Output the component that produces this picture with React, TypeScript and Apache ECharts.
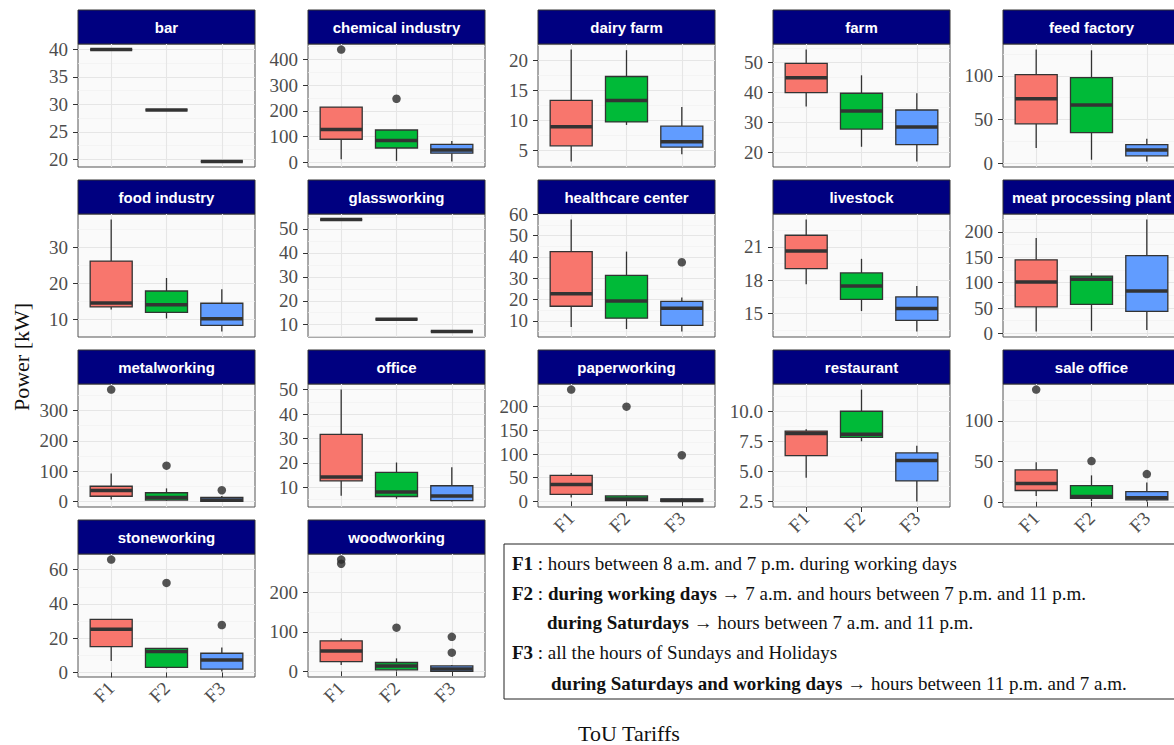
import React, { useEffect, useRef } from 'react';
import * as echarts from 'echarts';

// ---------- data ----------
const tariffs = ['F1', 'F2', 'F3'];
const sectors = [
  'bar', 'chemical industry', 'dairy farm', 'farm', 'feed factory',
  'food industry', 'glassworking', 'healthcare center', 'livestock', 'meat processing plant',
  'metalworking', 'office', 'paperworking', 'restaurant', 'sale office',
  'stoneworking', 'woodworking',
];

// box stats per tariff: [lower whisker, Q1, median, Q3, upper whisker]
const barStats = [[40, 40, 40, 40, 40], [29, 29, 29, 29, 29], [19.6, 19.6, 19.6, 19.6, 19.6]];
const chemicalStats = [[12, 90, 128, 215, 215], [6, 56, 85, 126, 126], [4, 36, 48, 70, 83]];
const dairyStats = [[3.1, 5.7, 8.9, 13.3, 21.8], [9.2, 9.7, 13.3, 17.3, 21.7], [4.3, 5.5, 6.4, 9.0, 12.2]];
const farmStats = [[35.4, 40, 45, 49.8, 54.4], [21.9, 27.8, 33.9, 39.8, 45.8], [17, 22.6, 28.5, 34.2, 39.8]];
const feedStats = [[17.4, 45.1, 73.9, 101.5, 130.3], [3.8, 34.9, 66.7, 98.1, 129.5], [1.9, 8.3, 15.1, 21.2, 28]];
const foodStats = [[12.7, 13.4, 14.5, 26.1, 37.6], [10.2, 11.9, 14.0, 17.8, 21.4], [6.6, 8.3, 10.1, 14.4, 18.3]];
const glassStats = [[53.9, 53.9, 53.9, 53.9, 53.9], [12.3, 12.3, 12.3, 12.3, 12.3], [7.2, 7.2, 7.2, 7.2, 7.2]];
const healthStats = [[7.2, 16.9, 22.8, 42.5, 57.5], [6.2, 11.3, 19.3, 31.4, 42.5], [5.1, 7.9, 16.0, 19.2, 21]];
const livestockStats = [[17.64, 19.05, 20.64, 22.05, 23.46], [15.23, 16.29, 17.49, 18.66, 19.93], [13.4, 14.4, 15.45, 16.5, 17.49]];
const meatStats = [[3.9, 52.2, 101.2, 145, 188.2], [5.1, 57, 106.5, 113, 118.8], [6.5, 43.5, 83.7, 153.3, 224.3]];
const metalStats = [[6, 17, 36, 50, 92], [2, 4.3, 13, 28.6, 43], [0, 0.5, 5, 13, 18]];
const officeStats = [[6.6, 12.7, 14.3, 31.7, 50], [5.4, 6.3, 8.1, 16.2, 20.2], [4.3, 4.6, 6.5, 10.7, 18.3]];
const paperStats = [[8.3, 15, 35.7, 55, 60], [0.5, 1.5, 5, 11.6, 13], [0, 0.3, 2, 5.4, 7]];
const restaurantStats = [[4.46, 6.31, 8.15, 8.35, 8.5], [7.5, 7.82, 8.09, 10.0, 11.8], [2.5, 4.2, 5.9, 6.53, 7.13]];
const saleStats = [[7.3, 14, 22.5, 39.5, 48.8], [1, 4.4, 6.5, 20.1, 32.7], [0.5, 2.4, 5, 12.5, 24]];
const stoneStats = [[6.7, 15.1, 25.2, 31, 31], [2.3, 2.9, 12.2, 14, 14], [0.6, 1.9, 7.3, 11.2, 14.5]];
const woodStats = [[16.5, 25, 51.5, 77.5, 83], [2, 4, 14, 22.5, 33], [0, 0, 5.8, 14, 16.5]];

// outliers: [tariff number, value]
const chemicalOut = [[1, 438], [2, 247]];
const healthOut = [[3, 37.5]];
const metalOut = [[1, 369], [2, 118], [3, 37]];
const paperOut = [[1, 236], [2, 200], [3, 97.5]];
const saleOut = [[1, 138.8], [2, 50.4], [3, 34.3]];
const stoneOut = [[1, 65.9], [2, 52.3], [3, 27.7]];
const woodOut = [[1, 283], [1, 272.5], [2, 110.8], [3, 87.5], [3, 47.5]];

// y tick labels per panel
const barTicks = [20, 25, 30, 35, 40];
const chemicalTicks = [0, 100, 200, 300, 400];
const dairyTicks = [5, 10, 15, 20];
const farmTicks = [20, 30, 40, 50];
const feedTicks = [0, 50, 100];
const foodTicks = [10, 20, 30];
const glassTicks = [10, 20, 30, 40, 50];
const healthTicks = [10, 20, 30, 40, 50, 60];
const livestockTicks = [15, 18, 21];
const meatTicks = [0, 50, 100, 150, 200];
const metalTicks = [0, 100, 200, 300];
const officeTicks = [10, 20, 30, 40, 50];
const paperTicks = [0, 50, 100, 150, 200];
const restaurantTicks = [2.5, 5.0, 7.5, 10.0];
const saleTicks = [0, 50, 100];
const stoneTicks = [0, 20, 40, 60];
const woodTicks = [0, 100, 200];

const boxStats = [barStats, chemicalStats, dairyStats, farmStats, feedStats, foodStats, glassStats, healthStats,
  livestockStats, meatStats, metalStats, officeStats, paperStats, restaurantStats, saleStats, stoneStats, woodStats];
const outlierPts: number[][][] = [[], chemicalOut, [], [], [], [], [], healthOut, [], [], metalOut, [], paperOut, [],
  saleOut, stoneOut, woodOut];
const yTicks = [barTicks, chemicalTicks, dairyTicks, farmTicks, feedTicks, foodTicks, glassTicks, healthTicks,
  livestockTicks, meatTicks, metalTicks, officeTicks, paperTicks, restaurantTicks, saleTicks, stoneTicks, woodTicks];

// ---------- styling / layout ----------
const fills = ['#F8766D', '#00BA38', '#619CFF'];
const colLeft = [78, 308, 538, 773, 1003];
const rowTop = [44, 214, 384, 554];
const panelW = 177;
const panelH = 123;
const stripH = 34;
const serif = '"Liberation Serif", "Times New Roman", serif';
const sans = '"Liberation Sans", Arial, sans-serif';
const tickFont = 19;
const legendFont = 19;

function buildOption() {
  const grid: any[] = [];
  const xAxis: any[] = [];
  const yAxis: any[] = [];
  const series: any[] = [];
  const graphic: any[] = [];

  sectors.forEach((name, k) => {
    const row = Math.floor(k / 5);
    const col = k % 5;
    const left = colLeft[col];
    const top = rowTop[row];
    const stats = boxStats[k];
    const outs = outlierPts[k];
    const ticks = yTicks[k];
    const all = [...stats.flat(), ...outs.map((o) => o[1])];
    const lo = Math.min(...all);
    const hi = Math.max(...all);
    const pad = (hi - lo) * 0.05;
    const yMin = lo - pad;
    const yMax = hi + pad;
    const step = ticks[1] - ticks[0];
    const minors: number[] = [];
    for (let i = -1; i < ticks.length; i++) {
      const m = ticks[0] + (i + 0.5) * step;
      if (m > yMin && m < yMax) minors.push(m);
    }
    const dec = ticks.some((t) => Math.round(t) !== t) ? 1 : 0;
    const isBottom = k + 5 >= sectors.length;

    grid.push({
      left, top, width: panelW, height: panelH,
      show: true, backgroundColor: '#FAFAFA', borderColor: '#555', borderWidth: 1,
      containLabel: false, outerBoundsMode: 'none',
    });

    xAxis.push({
      gridIndex: k, type: 'value', min: 0.4, max: 3.6,
      axisLine: { show: false },
      axisTick: { show: isBottom, customValues: [1, 2, 3], length: 5, lineStyle: { color: '#333', width: 1 } },
      axisLabel: {
        show: isBottom, customValues: [1, 2, 3], rotate: 45, margin: 8,
        formatter: (v: number) => tariffs[Math.round(v) - 1],
        fontFamily: serif, fontSize: tickFont, color: '#4D4D4D',
      },
      splitLine: { show: true, lineStyle: { color: '#E6E6E6', width: 1.1 } },
    });

    // minor grid axis
    yAxis.push({
      gridIndex: k, type: 'value', min: yMin, max: yMax, position: 'right',
      axisLine: { show: false },
      axisTick: { show: false, customValues: minors },
      axisLabel: { show: false, customValues: minors },
      splitLine: { show: true, lineStyle: { color: '#F0F0F0', width: 0.7 } },
    });
    // major axis
    yAxis.push({
      gridIndex: k, type: 'value', min: yMin, max: yMax, position: 'left',
      axisLine: { show: false },
      axisTick: { show: true, customValues: ticks, length: 5, lineStyle: { color: '#333', width: 1 } },
      axisLabel: {
        show: true, customValues: ticks, margin: 10,
        formatter: (v: number) => v.toFixed(dec),
        fontFamily: serif, fontSize: tickFont, color: '#4D4D4D',
      },
      splitLine: { show: true, lineStyle: { color: '#E6E6E6', width: 1.1 } },
    });

    series.push({
      type: 'custom', xAxisIndex: k, yAxisIndex: 2 * k + 1, silent: true, clip: false,
      data: stats.map((s, j) => [j + 1, ...s, j]),
      encode: { x: 0, y: [1, 2, 3, 4, 5] },
      renderItem: (_params: any, api: any) => {
        const x = api.value(0);
        const pLo = api.coord([x, api.value(1)]);
        const pQ1 = api.coord([x, api.value(2)]);
        const pMed = api.coord([x, api.value(3)]);
        const pQ3 = api.coord([x, api.value(4)]);
        const pHi = api.coord([x, api.value(5)]);
        const ci = api.value(6);
        const w = api.size([0.76, 0])[0];
        const cx = pMed[0];
        const lx = cx - w / 2;
        const line = { stroke: '#333', lineWidth: 1.3 };
        return {
          type: 'group',
          children: [
            { type: 'line', shape: { x1: cx, y1: pQ3[1], x2: cx, y2: pHi[1] }, style: line },
            { type: 'line', shape: { x1: cx, y1: pQ1[1], x2: cx, y2: pLo[1] }, style: line },
            {
              type: 'rect', shape: { x: lx, y: pQ3[1], width: w, height: pQ1[1] - pQ3[1] },
              style: { fill: fills[ci], stroke: '#333', lineWidth: 1.3 },
            },
            { type: 'line', shape: { x1: lx, y1: pMed[1], x2: lx + w, y2: pMed[1] }, style: { stroke: '#333', lineWidth: 3.5 } },
          ],
        };
      },
    });

    if (outs.length) {
      series.push({
        type: 'scatter', xAxisIndex: k, yAxisIndex: 2 * k + 1, silent: true,
        data: outs.map((o) => [o[0], o[1]]),
        symbolSize: 8.5, itemStyle: { color: '#2b2b2b' },
      });
    }

    graphic.push({
      type: 'rect', shape: { x: left, y: top - stripH, width: panelW, height: stripH },
      style: { fill: '#000080', stroke: '#333', lineWidth: 1 },
    });
    graphic.push({
      type: 'text', x: left + panelW / 2, y: top - stripH / 2,
      style: {
        text: name, fill: '#FFFFFF', fontFamily: sans, fontWeight: 'bold', fontSize: 15,
        align: 'center', verticalAlign: 'middle', textAlign: 'center', textVerticalAlign: 'middle',
      },
    });
  });

  // axis titles
  graphic.push({
    type: 'text', x: 21, y: 357, rotation: Math.PI / 2,
    style: {
      text: 'Power [kW]', fill: '#111', fontFamily: serif, fontSize: 22,
      align: 'center', verticalAlign: 'middle', textAlign: 'center', textVerticalAlign: 'middle',
    },
  });
  graphic.push({
    type: 'text', x: 629, y: 733,
    style: {
      text: 'ToU Tariffs', fill: '#111', fontFamily: serif, fontSize: 22,
      align: 'center', verticalAlign: 'middle', textAlign: 'center', textVerticalAlign: 'middle',
    },
  });

  // legend box
  graphic.push({
    type: 'rect', shape: { x: 504, y: 544, width: 690, height: 155 },
    style: { fill: '#FFFFFF', stroke: '#222', lineWidth: 1 },
  });
  const rich = {
    b: { fontFamily: serif, fontSize: legendFont, fontWeight: 'bold', fill: '#111' },
    n: { fontFamily: serif, fontSize: legendFont, fontWeight: 'normal', fill: '#111' },
  };
  const legendLines: [number, number, string][] = [
    [512, 563, '{b|F1}{n| : hours between 8 a.m. and 7 p.m. during working days}'],
    [512, 593, '{b|F2}{n| : }{b|during working days}{n| → 7 a.m. and hours between 7 p.m. and 11 p.m.}'],
    [547, 622, '{b|during Saturdays}{n| → hours between 7 a.m. and 11 p.m.}'],
    [512, 652, '{b|F3}{n| : all the hours of Sundays and Holidays}'],
    [551, 683, '{b|during Saturdays and working days}{n| → hours between 11 p.m. and 7 a.m.}'],
  ];
  legendLines.forEach(([x, y, t]) => {
    graphic.push({
      type: 'text', x, y,
      style: {
        text: t, rich, fontFamily: serif, fontSize: legendFont, fill: '#111',
        align: 'left', verticalAlign: 'middle', textAlign: 'left', textVerticalAlign: 'middle',
      },
    });
  });

  return { animation: false, backgroundColor: '#FFFFFF', grid, xAxis, yAxis, series, graphic };
}

export default function App() {
  const ref = useRef<HTMLDivElement>(null);
  useEffect(() => {
    const chart = echarts.init(ref.current!, null, { renderer: 'svg' });
    chart.setOption(buildOption() as any);
    return () => chart.dispose();
  }, []);
  return (
    <div
      ref={ref}
      style={{ position: 'fixed', left: 0, top: 0, width: 1174, height: 745, background: '#fff' }}
    />
  );
}
